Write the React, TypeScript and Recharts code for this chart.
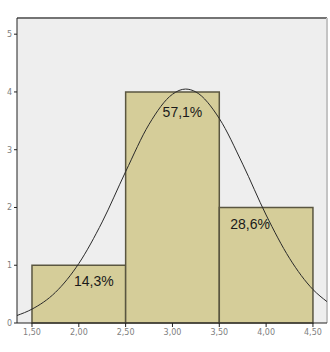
import React from 'react';
import {
  ComposedChart,
  Line,
  XAxis,
  YAxis,
  CartesianGrid,
  ReferenceArea,
  ReferenceLine,
} from 'recharts';

// histogram bins (lower edge, upper edge, count, percent label)
const binStarts = [1.5, 2.5, 3.5];
const binEnds = [2.5, 3.5, 4.5];
const binCounts = [1, 4, 2];
const binLabels = ['14,3%', '57,1%', '28,6%'];

// normal curve
const curveX = [1.34, 1.5, 1.75, 2.0, 2.25, 2.5, 2.75, 3.0, 3.14, 3.25, 3.5, 3.75, 4.0, 4.25, 4.5, 4.65];
const curveY = [0.13, 0.24, 0.53, 1.03, 1.75, 2.62, 3.44, 3.96, 4.05, 4.0, 3.54, 2.75, 1.87, 1.12, 0.58, 0.37];

const xTicks = [1.5, 2.0, 2.5, 3.0, 3.5, 4.0, 4.5];
const xTickLabels = ['1,50', '2,00', '2,50', '3,00', '3,50', '4,00', '4,50'];
const yTicks = [0, 1, 2, 3, 4, 5];

const curveData = curveX.map((x, i) => ({ x, y: curveY[i] }));

// where each percent label sits relative to its bar (style only)
const labelOffsets = [
  { dx: 15, dy: 21 },
  { dx: 10, dy: 25 },
  { dx: -16, dy: 22 },
];

const makeLabel = (text: string, i: number) => (props: any) => {
  const vb = props.viewBox;
  if (!vb) return null;
  return (
    <text
      x={vb.x + vb.width / 2 + labelOffsets[i].dx}
      y={vb.y + labelOffsets[i].dy}
      textAnchor="middle"
      fontSize={14}
      fontFamily="Liberation Sans, Arial, sans-serif"
      fill="#1a1a1a"
    >
      {text}
    </text>
  );
};

const tickStyle = { fill: '#808080', fontSize: 8, fontFamily: 'DejaVu Sans, sans-serif' };

export default function App() {
  return (
    <div style={{ position: 'absolute', left: 0, top: 0, width: 330, height: 352, background: '#fff' }}>
      <ComposedChart
        width={330}
        height={352}
        data={curveData}
        margin={{ top: 18, right: 3, bottom: 0, left: 0 }}
      >
        <CartesianGrid horizontal={false} vertical={false} fill="#eeeeee" />
        <XAxis
          dataKey="x"
          type="number"
          domain={[1.34, 4.65]}
          ticks={xTicks}
          allowDataOverflow
          height={29}
          tickLine={{ stroke: '#222' }}
          tickSize={4}
          axisLine={{ stroke: '#222' }}
          tick={tickStyle}
          tickFormatter={(v: number) => xTickLabels[xTicks.indexOf(v)] ?? ''}
        />
        <YAxis
          type="number"
          domain={[0, 5.28]}
          ticks={yTicks}
          allowDataOverflow
          width={17}
          tickLine={{ stroke: '#222' }}
          tickSize={3}
          axisLine={{ stroke: '#222' }}
          tick={tickStyle}
        />
        <ReferenceLine y={5.28} stroke="#747474" strokeWidth={2} />
        <ReferenceLine x={4.65} stroke="#c4c4c4" strokeWidth={2} />
        {binCounts.map((c, i) => (
          <ReferenceArea
            key={i}
            x1={binStarts[i]}
            x2={binEnds[i]}
            y1={0}
            y2={c}
            fill="#d5cd99"
            fillOpacity={1}
            stroke="#5a5640"
            strokeWidth={1.5}
            label={makeLabel(binLabels[i], i)}
          />
        ))}
        <Line
          dataKey="y"
          type="monotone"
          stroke="#2a2a2a"
          strokeWidth={1}
          dot={false}
          isAnimationActive={false}
        />
      </ComposedChart>
    </div>
  );
}
